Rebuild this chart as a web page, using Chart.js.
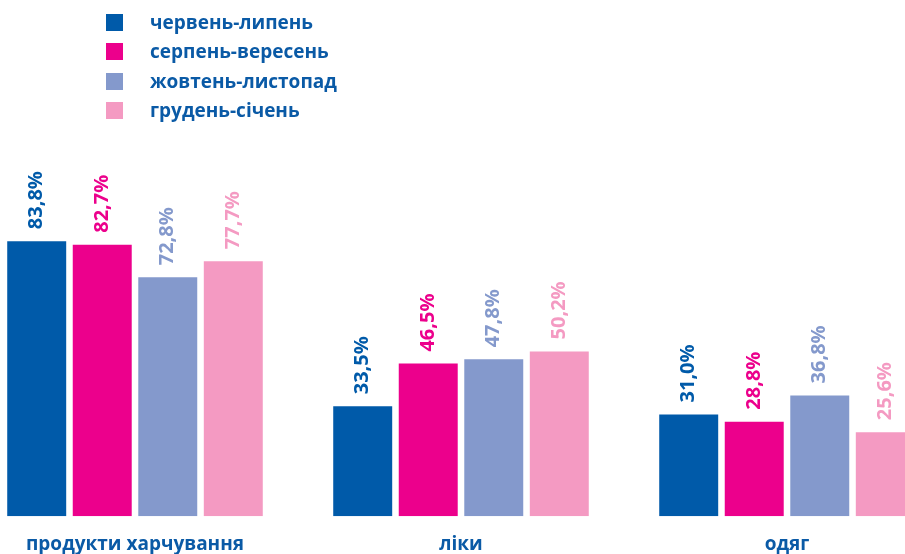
<!DOCTYPE html>
<html>
<head>
<meta charset="utf-8">
<script src="https://cdn.jsdelivr.net/npm/chart.js@4"></script>
<style>
  body { margin: 0; width: 905px; height: 554px; overflow: hidden; background: #fff; position: relative; font-family: "Open Sans", sans-serif; }
  #wrap { position: absolute; left: -28px; top: 0; width: 978px; height: 573px; }
  #legend { position: absolute; left: 106px; top: 8px; list-style: none; margin: 0; padding: 0; }
  #legend li { height: 29.3px; line-height: 29.3px; font-weight: bold; font-size: 19px; color: #0a5aa6; white-space: nowrap; }
  #legend span { display: inline-block; width: 17px; height: 17px; margin-right: 27px; vertical-align: -2px; }
</style>
</head>
<body>
<div id="wrap"><canvas id="chart"></canvas></div>
<ul id="legend"></ul>
<script>
var categories = ['продукти харчування', 'ліки', 'одяг'];
var seriesNames = ['червень-липень', 'серпень-вересень', 'жовтень-листопад', 'грудень-січень'];
var seriesColors = ['#005aa9', '#ec008c', '#8499cc', '#f49ac2'];
var junJul = [83.8, 33.5, 31.0];
var augSep = [82.7, 46.5, 28.8];
var octNov = [72.8, 47.8, 36.8];
var decJan = [77.7, 50.2, 25.6];
var seriesValues = [junJul, augSep, octNov, decJan];

// legend as html list
seriesNames.forEach(function (name, i) {
    var li = document.createElement('li');
    li.innerHTML = '<span style="background:' + seriesColors[i] + '"></span>' + name;
    document.getElementById('legend').appendChild(li);
});

var valueLabels = {
    id: 'valueLabels',
    afterDatasetsDraw: function (chart) {
        var ctx = chart.ctx;
        chart.data.datasets.forEach(function (ds, i) {
            chart.getDatasetMeta(i).data.forEach(function (bar, j) {
                var txt = ds.data[j].toFixed(1).replace('.', ',') + '%';
                ctx.save();
                ctx.translate(bar.x, bar.y - 12);
                ctx.rotate(-Math.PI / 2);
                ctx.font = 'bold 20px "Open Sans"';
                ctx.fillStyle = ds.backgroundColor;
                ctx.textAlign = 'left';
                ctx.textBaseline = 'middle';
                ctx.fillText(txt, 0, 0);
                ctx.restore();
            });
        });
    }
};

new Chart(document.getElementById('chart'), {
    type: 'bar',
    data: {
        labels: categories,
        datasets: seriesNames.map(function (name, i) {
            return {
                label: name,
                data: seriesValues[i],
                backgroundColor: seriesColors[i],
                categoryPercentage: 0.804,
                barPercentage: 0.9
            };
        })
    },
    options: {
        responsive: true,
        maintainAspectRatio: false,
        animation: false,
        layout: { padding: { top: 188, left: 0, right: 0, bottom: 0 } },
        plugins: { legend: { display: false }, tooltip: { enabled: false } },
        scales: {
            x: {
                grid: { display: false, drawTicks: false },
                border: { display: false },
                ticks: { color: '#0a5aa6', font: { family: 'Open Sans', weight: 'bold', size: 19 }, padding: 17 }
            },
            y: {
                display: false,
                min: 0,
                max: 100
            }
        }
    },
    plugins: [valueLabels]
});
</script>
</body>
</html>
